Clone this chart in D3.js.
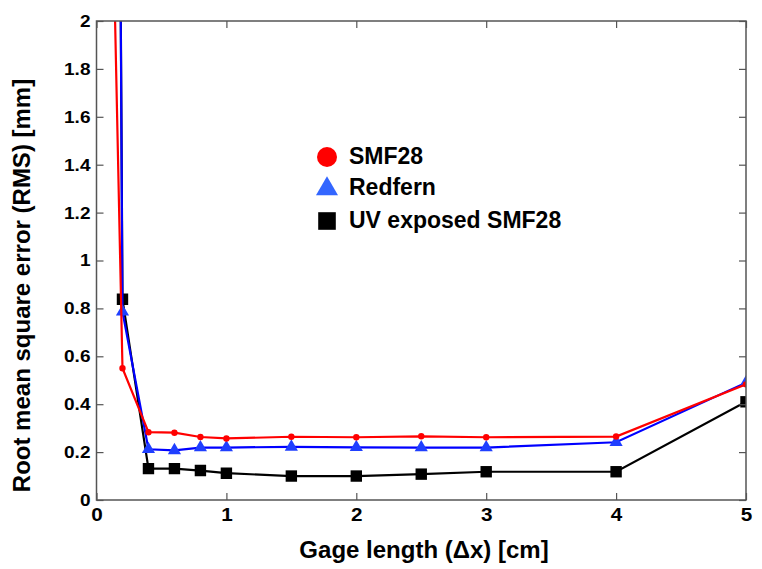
<!DOCTYPE html>
<html><head><meta charset="utf-8">
<script src="https://cdn.jsdelivr.net/npm/d3@7"></script>
<style>body{margin:0;background:#fff}svg{display:block}text{font-family:Arial,"Liberation Sans",sans-serif;font-weight:bold}</style>
</head><body><svg id="c" width="762" height="569"></svg>
<script>
const xVals = [0.1, 0.2, 0.4, 0.6, 0.8, 1.0, 1.5, 2.0, 2.5, 3.0, 4.0, 5.0];
const smf28 = [3.1, 0.55, 0.283, 0.281, 0.263, 0.257, 0.264, 0.262, 0.266, 0.262, 0.265, 0.483];
const redfern = [10, 0.786, 0.212, 0.207, 0.219, 0.219, 0.222, 0.22, 0.219, 0.219, 0.241, 0.49];
const uvSmf28 = [10, 0.838, 0.131, 0.131, 0.123, 0.112, 0.1, 0.1, 0.108, 0.118, 0.118, 0.41];
const xTicks = [0, 1, 2, 3, 4, 5];
const yTicks = [0, 0.2, 0.4, 0.6, 0.8, 1, 1.2, 1.4, 1.6, 1.8, 2];
const seriesNames = ["SMF28", "Redfern", "UV exposed SMF28"];

const svg = d3.select("#c");
const L = 96.5, R = 746, T = 21, B = 500;
const x = d3.scaleLinear().domain([0, 5]).range([L, R]);
const y = d3.scaleLinear().domain([0, 2]).range([B, T]);

svg.append("defs").append("clipPath").attr("id", "clip")
  .append("rect").attr("x", L).attr("y", T).attr("width", R - L).attr("height", B - T);

const series = [
  {name: seriesNames[2], vals: uvSmf28, color: "#000000", shape: "square", size: 130},
  {name: seriesNames[1], vals: redfern, color: "#0000ff", mcolor: "#1f3fff", shape: "triangle", size: 75},
  {name: seriesNames[0], vals: smf28, color: "#ff0000", shape: "circle", size: 32}
];
const symFor = s => s === "square" ? d3.symbolSquare : s === "triangle" ? d3.symbolTriangle : d3.symbolCircle;

const g = svg.append("g").attr("clip-path", "url(#clip)");
const line = d3.line().x((d, i) => x(xVals[i])).y(d => y(d));
series.forEach(s => {
  g.append("path").datum(s.vals).attr("d", line).attr("fill", "none")
    .attr("stroke", s.color).attr("stroke-width", 2.2);
  g.selectAll(null).data(s.vals).enter().append("path")
    .attr("transform", (d, i) => `translate(${x(xVals[i])},${y(d)})`)
    .attr("d", d3.symbol().type(symFor(s.shape)).size(s.size))
    .attr("fill", s.mcolor || s.color);
});

// frame and ticks
const axisColor = "#555";
svg.append("rect").attr("x", L).attr("y", T).attr("width", R - L).attr("height", B - T)
  .attr("fill", "none").attr("stroke", axisColor).attr("stroke-width", 1.5);

const xb = svg.append("g").attr("transform", `translate(0,${B})`)
  .call(d3.axisBottom(x).tickValues(xTicks).tickSize(-7).tickPadding(8).tickFormat(d3.format("d")));
const xt = svg.append("g").attr("transform", `translate(0,${T})`)
  .call(d3.axisTop(x).tickValues(xTicks).tickSize(-7).tickFormat(""));
const yl = svg.append("g").attr("transform", `translate(${L},0)`)
  .call(d3.axisLeft(y).tickValues(yTicks).tickSize(-7).tickPadding(6).tickFormat(d => d3.format("")(+d.toFixed(1))));
const yr = svg.append("g").attr("transform", `translate(${R},0)`)
  .call(d3.axisRight(y).tickValues(yTicks).tickSize(-7).tickFormat(""));
[xb, xt, yl, yr].forEach(a => {
  a.select(".domain").remove();
  a.selectAll(".tick line").attr("stroke", axisColor).attr("stroke-width", 1.2);
});
function styleTicks(a, fs, sx) {
  a.selectAll("text").each(function() {
    const t = d3.select(this);
    const xv = +t.attr("x") || 0;
    t.attr("x", xv / sx).attr("transform", `scale(${sx},1)`)
      .attr("fill", "#000").attr("font-size", fs)
      .attr("font-family", "Arial, 'Liberation Sans', sans-serif").attr("font-weight", "bold");
  });
}
styleTicks(xb, 18, 1.15);
styleTicks(yl, 17, 1.12);

svg.append("text").attr("x", 424).attr("y", 558).attr("text-anchor", "middle")
  .attr("font-size", 24).attr("transform", "").text("Gage length (Δx) [cm]");
svg.append("text").attr("transform", `translate(30,${(T + B) / 2 + 25}) rotate(-90)`)
  .attr("text-anchor", "middle").attr("font-size", 24).text("Root mean square error (RMS) [mm]");

// legend
const legend = [
  {name: seriesNames[0], color: "#ff0000", shape: "circle", size: 314, cy: 157, ty: 164},
  {name: seriesNames[1], color: "#3366ff", shape: "triangle", size: 210, cy: 189, ty: 195},
  {name: seriesNames[2], color: "#000000", shape: "square", size: 310, cy: 221, ty: 228}
];
legend.forEach(l => {
  svg.append("path").attr("transform", `translate(327,${l.cy})`)
    .attr("d", d3.symbol().type(symFor(l.shape)).size(l.size)).attr("fill", l.color);
  svg.append("text").attr("x", 349).attr("y", l.ty).attr("font-size", 23).text(l.name);
});
</script></body></html>
